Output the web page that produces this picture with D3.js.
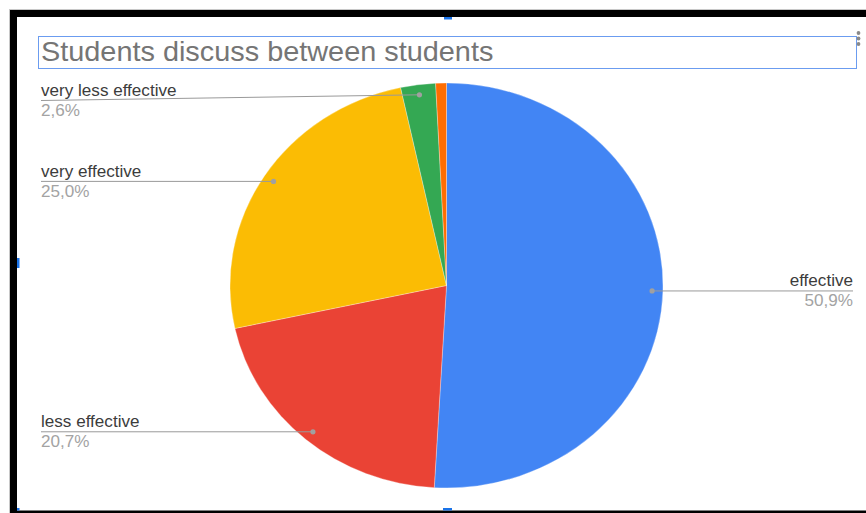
<!DOCTYPE html>
<html>
<head>
<meta charset="utf-8">
<script src="https://cdn.jsdelivr.net/npm/d3@7"></script>
<style>
  html, body { margin: 0; padding: 0; background: #fff; }
  svg { display: block; }
  text { font-family: "Liberation Sans", Arial, sans-serif; }
</style>
</head>
<body>
<svg id="chart" width="866" height="513"></svg>
<script>
// ---- data ----
const title = "Students discuss between students";
const categories = ["effective", "less effective", "very effective", "very less effective", "other"];
const values = [50.9, 20.7, 25.0, 2.6, 0.8];
const colors = ["#4285f4", "#ea4335", "#fbbc04", "#34a853", "#ff6d01"];

// ---- layout ----
const W = 866, H = 513;
const cx = 446.5, cy = 285.5, rx = 216.5, ry = 202.5;
const sx = rx / ry; // horizontal stretch of the screenshot
const svg = d3.select("#chart");

// outer faint lines and black frame
svg.append("line").attr("x1", 9.5).attr("x2", 9.5).attr("y1", 9).attr("y2", H).attr("stroke", "#c8c8c8");
svg.append("line").attr("x1", 9).attr("x2", W).attr("y1", 9.5).attr("y2", 9.5).attr("stroke", "#c8c8c8");
svg.append("rect").attr("x", 10).attr("y", 10).attr("width", W - 10).attr("height", 7).attr("fill", "#000");
svg.append("rect").attr("x", 10).attr("y", 10).attr("width", 7).attr("height", H - 10).attr("fill", "#000");
svg.append("rect").attr("x", 10).attr("y", 510.5).attr("width", W - 10).attr("height", 3).attr("fill", "#000");

// selection handles
const handles = [[444, 17, 8, 2.5], [17, 258, 2.5, 10], [443, 508, 9, 2.5], [17, 508, 2.5, 2.5]];
svg.selectAll(".handle").data(handles).join("rect").attr("class", "handle")
  .attr("x", d => d[0]).attr("y", d => d[1]).attr("width", d => d[2]).attr("height", d => d[3])
  .attr("fill", "#1a73e8");

// title box
svg.append("rect").attr("x", 38.5).attr("y", 36.5).attr("width", 818).attr("height", 32)
  .attr("fill", "none").attr("stroke", "#6b9cf0").attr("stroke-width", 1);
svg.append("text").attr("transform", `translate(41,61) scale(${sx},1)`)
  .attr("font-size", 27).attr("fill", "#757575").text(title);

// menu dots
svg.selectAll(".mdot").data([33, 38.5, 44]).join("circle").attr("class", "mdot")
  .attr("cx", 858.5).attr("cy", d => d).attr("r", 1.9).attr("fill", "#8a8a8a");

// ---- pie ----
const data = categories.map((c, i) => ({ cat: c, value: values[i], color: colors[i] }));
const pie = d3.pie().sort(null).value(d => d.value);
const arcs = pie(data);
const arc = d3.arc().innerRadius(0).outerRadius(ry);

const g = svg.append("g").attr("transform", `translate(${cx},${cy}) scale(${sx},1)`);
g.selectAll("path").data(arcs).join("path")
  .attr("d", arc)
  .attr("fill", d => d.data.color)
  .attr("stroke", "#fff")
  .attr("stroke-opacity", 0.6)
  .attr("stroke-width", 0.5)
  .attr("vector-effect", "non-scaling-stroke");

// ---- labels ----
const fmt = v => d3.format(".1f")(v).replace(".", ",") + "%";
const total = d3.sum(values);
const labelled = arcs.filter(d => d.data.value / total >= 0.02);

labelled.forEach(d => {
  const a = (d.startAngle + d.endAngle) / 2;
  const px = cx + Math.sin(a) * rx * 0.95;
  const py = cy - Math.cos(a) * ry * 0.95;
  const right = px > cx;
  const ly = Math.max(py, 100.5);
  const lx = right ? 853 : 41;

  svg.append("line")
    .attr("x1", lx).attr("y1", ly).attr("x2", px).attr("y2", py)
    .attr("stroke", "#9a9a9a").attr("stroke-width", 1);
  svg.append("circle").attr("cx", px).attr("cy", py).attr("r", 2.6).attr("fill", "#a0a0a0");

  svg.append("text")
    .attr("transform", `translate(${lx},${ly - 4.5}) scale(${sx},1)`)
    .attr("text-anchor", right ? "end" : "start")
    .attr("font-size", 16).attr("fill", "#3c3c3c")
    .text(d.data.cat);
  svg.append("text")
    .attr("transform", `translate(${lx},${ly + 15.5}) scale(${sx},1)`)
    .attr("text-anchor", right ? "end" : "start")
    .attr("font-size", 16).attr("fill", "#a3a3a3")
    .text(fmt(d.data.value));
});
</script>
</body>
</html>
